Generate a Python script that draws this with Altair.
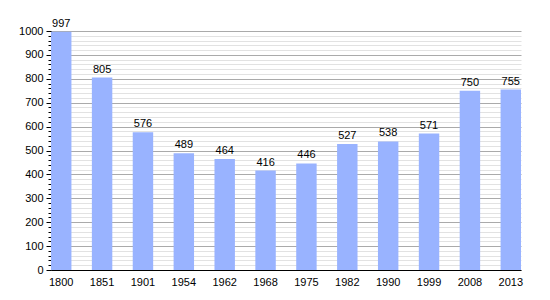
import altair as alt
import pandas as pd

years = ["1800", "1851", "1901", "1954", "1962", "1968", "1975", "1982", "1990", "1999", "2008", "2013"]
population = [997, 805, 576, 489, 464, 416, 446, 527, 538, 571, 750, 755]
y_ticks = list(range(0, 1001, 20))

df = pd.DataFrame({"year": years, "pop": population})

FONT = "Liberation Sans"

x = alt.X("year:N", sort=years, title=None,
          scale=alt.Scale(paddingInner=0.5, paddingOuter=0),
          axis=alt.Axis(labelAngle=0, ticks=False, labelPadding=6, labelFontSize=11,
                        labelColor="#000", domainColor="#000", labelFont=FONT))
y = alt.Y("pop:Q", title=None,
          scale=alt.Scale(domain=[0, 1000], nice=False, zero=True),
          axis=alt.Axis(values=y_ticks, labelOverlap=False, format="d",
                        labelExpr="datum.value % 100 === 0 ? datum.label : ''",
                        gridColor={"condition": {"test": "datum.value % 100 === 0", "value": "#aaaaaa"}, "value": "#e2e2e2"},
                        tickSize={"condition": {"test": "datum.value % 100 === 0", "value": 5}, "value": 3},
                        tickColor="#000", domainColor="#000", labelColor="#000",
                        labelFontSize=11, labelFont=FONT, labelPadding=3))

base = alt.Chart(df).encode(x=x, y=y)
bars = base.mark_bar(color="#99b3ff")
text = base.mark_text(dy=-8, fontSize=11, font=FONT, color="#000").encode(text="pop:Q")

chart = (bars + text).properties(
    width=470, height=239,
    autosize="none",
    padding={"left": 51, "top": 31, "right": 29, "bottom": 30},
).configure_view(stroke=None).configure_axis(gridWidth=1, domainWidth=1)

chart.save("out.html", embed_options={"renderer": "svg", "actions": False})
